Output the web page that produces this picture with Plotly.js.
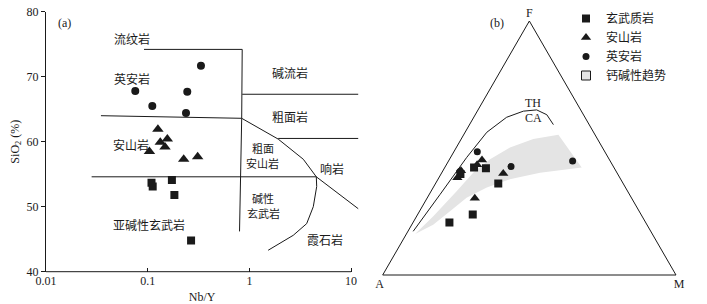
<!DOCTYPE html>
<html><head><meta charset="utf-8">
<script src="https://cdn.plot.ly/plotly-3.0.1.min.js"></script>
<style>html,body{margin:0;padding:0;background:#fff}#chart{width:707px;height:304px}</style>
</head><body><div id="chart"></div>
<script>
// ---------- Panel (a): Nb/Y vs SiO2 ----------
const basaltNbY   = [0.109, 0.112, 0.173, 0.183, 0.267];
const basaltSiO2  = [53.7, 53.1, 54.1, 51.8, 44.8];
const andesiteNbY = [0.126, 0.133, 0.156, 0.148, 0.104, 0.226, 0.310];
const andesiteSiO2= [61.9, 59.9, 60.4, 59.2, 58.5, 57.3, 57.7];
const daciteNbY   = [0.334, 0.0755, 0.245, 0.111, 0.238];
const daciteSiO2  = [71.7, 67.8, 67.7, 65.5, 64.4];

// classification boundaries
const bndVertX = [0.092, 0.85, 0.84, 0.82, 0.80];
const bndVertY = [74.2, 74.2, 63.6, 54.6, 46.2];
const bndDiagX = [0.0347, 0.84, 1.92, 3.39, 4.55, 12.2];
const bndDiagY = [64.0, 63.6, 60.4, 57.3, 54.6, 49.5];
const bndComX  = [0.85, 12.2];
const bndComY  = [67.3, 67.3];
const bndTrX   = [1.92, 12.2];
const bndTrY   = [60.5, 60.5];
const bndBasX  = [0.0281, 4.55];
const bndBasY  = [54.6, 54.6];
const bndFoiX  = [4.55, 4.59, 4.25, 3.66, 2.70, 1.53];
const bndFoiY  = [54.6, 53.1, 50.0, 47.4, 45.6, 43.3];

const regionNames = ['流纹岩','英安岩','安山岩','亚碱性玄武岩','碱流岩','粗面岩','粗面','安山岩','响岩','碱性','玄武岩','霞石岩'];
const regionX = [0.0697, 0.0697, 0.069, 0.103, 2.51, 2.51, 1.35, 1.35, 6.44, 1.37, 1.37, 5.54];
const regionY = [75.9, 69.75, 59.5, 47.3, 70.6, 63.8, 59.05, 56.7, 55.9, 51.35, 49.0, 44.9];
const regionSize = [12, 12, 12, 12, 12, 12, 11, 11, 12, 11, 11, 12];

const xTickVals = [0.01, 0.1, 1, 10];
const xTickText = ['0.01', '0.1', '1', '10'];
const yTickVals = [40, 50, 60, 70, 80];

// ---------- Panel (b): AFM ternary (F, A, M in %) ----------
const basaltF = [42.0, 42.3, 36.0, 23.8, 20.7, 39.8];
const basaltA = [43.8, 47.7, 42.6, 57.4, 66.9, 53.6];
const basaltM = [14.2, 10.0, 21.4, 18.8, 12.4, 6.6];
const andesiteF = [45.3, 43.4, 38.3, 40.0, 30.2, 41.0];
const andesiteA = [43.5, 46.1, 55.4, 38.9, 53.5, 52.8];
const andesiteM = [11.2, 10.5, 6.3, 21.1, 16.3, 6.2];
const daciteF = [48.5, 42.7, 44.9, 40.7];
const daciteA = [43.5, 34.9, 12.8, 53.3];
const daciteM = [8.0, 22.4, 42.3, 6.0];

const thcaF = [17.2, 31.7, 46.3, 56.2, 62.1, 64.5, 65.0, 63.1, 59.2];
const thcaA = [81.0, 64.6, 48.2, 36.4, 26.7, 19.8, 15.0, 12.5, 12.2];
const thcaM = [1.8, 3.7, 5.5, 7.4, 11.2, 15.7, 20.0, 24.4, 28.6];

const bandF = [16.1, 19.8, 25.1, 30.4, 34.4, 37.7, 40.3, 42.3, 55.2, 53.5, 50.2, 45.6, 40.3, 33.0, 23.1, 16.1];
const bandA = [80.9, 72.9, 64.5, 56.2, 47.3, 37.8, 26.2, 11.0, 12.5, 21.9, 31.5, 40.6, 49.0, 58.3, 71.2, 80.9];
const bandM = [3.0, 7.3, 10.4, 13.4, 18.3, 24.5, 33.5, 46.7, 32.3, 24.6, 18.3, 13.8, 10.7, 8.7, 5.7, 3.0];

const legendNames = ['玄武质岩', '安山岩', '英安岩', '钙碱性趋势'];

// ---------- styles ----------
const SERIF = 'Liberation Serif, Times New Roman, serif';
const CJK = 'Noto Sans CJK SC, sans-serif';
const INK = '#1a1a1a';
const W = 707, H = 304;

function line2d(x, y) {
  return {type:'scatter', mode:'lines', x:x, y:y, xaxis:'x', yaxis:'y',
          line:{color:INK, width:1}, showlegend:false, hoverinfo:'skip'};
}
function lineTern(a, b, c) {
  return {type:'scatterternary', mode:'lines', a:a, b:b, c:c,
          line:{color:INK, width:1}, showlegend:false, hoverinfo:'skip'};
}

const traces = [
  line2d(bndVertX, bndVertY), line2d(bndDiagX, bndDiagY), line2d(bndComX, bndComY),
  line2d(bndTrX, bndTrY), line2d(bndBasX, bndBasY), line2d(bndFoiX, bndFoiY),
  {type:'scatter', mode:'markers', x:basaltNbY, y:basaltSiO2, showlegend:false,
   marker:{symbol:'square', size:8, color:INK}},
  {type:'scatter', mode:'markers', x:andesiteNbY, y:andesiteSiO2, showlegend:false,
   marker:{symbol:'triangle-up', size:10, color:INK}},
  {type:'scatter', mode:'markers', x:daciteNbY, y:daciteSiO2, showlegend:false,
   marker:{symbol:'circle', size:8, color:INK}},
  // ternary
  {type:'scatterternary', mode:'lines', a:bandF, b:bandA, c:bandM, fill:'toself',
   fillcolor:'#e4e4e4', line:{width:0, color:'rgba(0,0,0,0)'}, showlegend:false, hoverinfo:'skip'},
  lineTern(thcaF, thcaA, thcaM),
  {type:'scatterternary', mode:'markers', name:legendNames[0], legendrank:1,
   a:basaltF, b:basaltA, c:basaltM, marker:{symbol:'square', size:8, color:INK}},
  {type:'scatterternary', mode:'markers', name:legendNames[1], legendrank:2,
   a:andesiteF, b:andesiteA, c:andesiteM, marker:{symbol:'triangle-up', size:9, color:INK}},
  {type:'scatterternary', mode:'markers', name:legendNames[2], legendrank:3,
   a:daciteF, b:daciteA, c:daciteM, marker:{symbol:'circle', size:7, color:INK}},
  {type:'scatterternary', mode:'markers', name:legendNames[3], legendrank:4,
   a:[null], b:[null], c:[null],
   marker:{symbol:'square', size:9, color:'#e4e4e4', line:{color:INK, width:1}}}
];

const annotations = regionNames.map((t, i) => ({
  text:t, x:Math.log10(regionX[i]), y:regionY[i], xref:'x', yref:'y',
  xanchor:'center', yanchor:'middle', borderpad:0,
  showarrow:false, font:{family:CJK, size:regionSize[i], color:INK}
}));
function paperText(t, px, py) {
  return {text:t, x:px/W, y:1-py/H, xref:'paper', yref:'paper', xanchor:'center', yanchor:'middle',
          showarrow:false, font:{family:SERIF, size:12, color:INK}};
}
annotations.push(
  paperText('(a)', 64, 23), paperText('(b)', 496.7, 23),
  paperText('TH', 533.3, 102.7), paperText('CA', 533.3, 118.3)
);

function ternAxis(t) {
  return {title:{text:t, font:{family:SERIF, size:12, color:INK}}, min:0,
          showticklabels:false, ticks:'', showgrid:false, linecolor:INK, linewidth:1};
}

const layout = {
  width:W, height:H, margin:{l:0, r:0, t:0, b:0},
  paper_bgcolor:'#fff', plot_bgcolor:'rgba(0,0,0,0)', hovermode:false,
  font:{family:SERIF, size:12, color:INK},
  xaxis:{type:'log', range:[-2, 1.07], domain:[46/W, 358.2/W],
         tickvals:xTickVals, ticktext:xTickText, ticks:'inside', ticklen:4, tickcolor:INK,
         showline:false, showgrid:false, zeroline:false,
         tickfont:{family:SERIF, size:12, color:INK},
         title:{text:'Nb/Y', font:{family:SERIF, size:12, color:INK}, standoff:6}},
  yaxis:{range:[40, 80], domain:[(H-271.7)/H, (H-11.7)/H],
         tickvals:yTickVals, ticks:'outside', ticklen:4, tickcolor:INK,
         showline:true, linecolor:INK, linewidth:1, showgrid:false, zeroline:false,
         tickfont:{family:SERIF, size:12, color:INK},
         title:{text:'SiO<sub>2</sub> (%)', font:{family:SERIF, size:12, color:INK}, standoff:4}},
  ternary:{domain:{x:[382.7/W, 676/W], y:[29/H, 283/H]}, sum:100, bgcolor:'rgba(0,0,0,0)',
           aaxis:ternAxis('F'), baxis:ternAxis('A'), caxis:ternAxis('M')},
  shapes:[{type:'line', xref:'paper', yref:'paper', x0:46/W, x1:351/W,
           y0:(H-271.7)/H, y1:(H-271.7)/H, line:{color:INK, width:1}}],
  legend:{x:566/W, y:1-4/H, xanchor:'left', yanchor:'top', bgcolor:'rgba(0,0,0,0)',
          font:{family:CJK, size:12, color:INK}, tracegroupgap:0, traceorder:'normal'},
  annotations:annotations
};

Plotly.newPlot('chart', traces, layout, {staticPlot:true, displayModeBar:false});
</script>
</body></html>
